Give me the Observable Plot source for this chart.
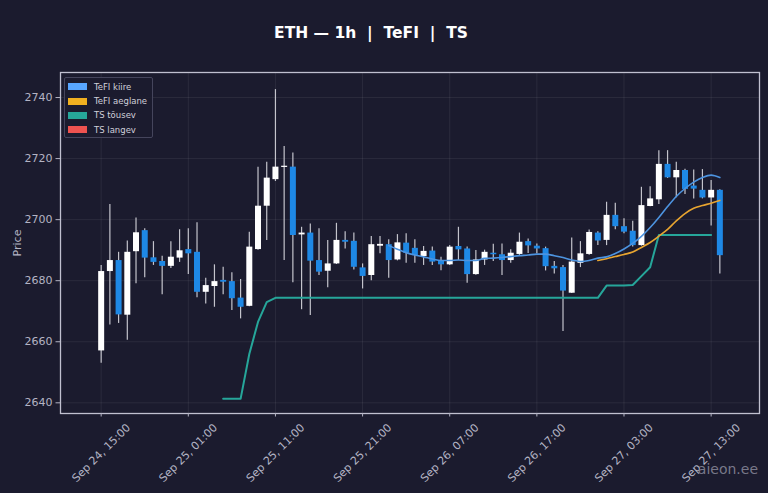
<!DOCTYPE html>
<html><head><meta charset="utf-8">
<script src="https://cdn.jsdelivr.net/npm/d3@7"></script>
<script src="https://cdn.jsdelivr.net/npm/@observablehq/plot@0.6"></script>
<style>
html,body{margin:0;padding:0;background:#1b1b2e;}
#wrap{position:relative;width:768px;height:493px;overflow:hidden;font-family:"DejaVu Sans",sans-serif;background:#1b1b2e;}
#wrap svg{position:absolute;left:0;top:0;}
#title{position:absolute;left:0;width:742px;top:23px;line-height:20px;text-align:center;color:#ffffff;font-weight:bold;font-size:15.5px;white-space:pre;}
#legend{position:absolute;left:64px;top:77px;width:87px;height:59px;border:1px solid #45455c;border-radius:2px;background:rgba(27,27,46,0.85);}
.item{position:absolute;left:3px;height:12px;font-size:8.5px;line-height:12px;color:#d0d0da;white-space:nowrap;}
.sw{position:absolute;left:0;top:2.5px;width:19px;height:7px;}
.lab{position:absolute;left:26px;top:0;}
#wm{position:absolute;right:10px;top:461px;font-size:14px;color:rgba(185,185,200,0.6);}
</style>
</head><body>
<div id="wrap">
  <div id="title">ETH — 1h  |  TeFI  |  TS</div>
</div>
<script>
// Hourly candles starting Sep 24, 15:00
const firstCandle = "2025-09-24T15:00:00Z";
const open  = [2657,2683,2686.6,2668.7,2689.5,2696.4,2687.5,2686.3,2684.7,2687.4,2690.2,2689.3,2676.2,2678.1,2680.1,2679.7,2674.3,2671.6,2690.2,2704.4,2713.1,2717.1,2717.2,2695,2695.6,2686.6,2683.1,2685.5,2693.2,2692.9,2684.2,2681.7,2691.3,2691.8,2686.8,2692.3,2690.6,2687.9,2689.7,2686.6,2685.2,2691.2,2690.4,2682,2686.8,2689,2688.5,2686.6,2688.6,2692.8,2691.3,2690.5,2684.7,2684.3,2675.9,2685.7,2688.6,2695.6,2693.2,2701.4,2697.7,2696.2,2691.5,2704.3,2706.5,2718.1,2713.7,2716.1,2711,2709.6,2707.1,2709.6];
const high  = [2685,2705,2689.3,2693,2700.5,2697,2692.8,2688,2692.8,2696.7,2697,2699,2680.8,2685.2,2684.4,2682.6,2680.4,2695.9,2717.2,2718.8,2742.6,2724,2721.8,2697.5,2698.6,2697,2693.2,2698.8,2696,2695.6,2685.5,2694.5,2694.5,2693.4,2695.1,2695.4,2693.4,2691.2,2691,2687.7,2691.5,2697.5,2691,2689.9,2690,2691.9,2692,2690.1,2695.6,2693.7,2692,2691,2686.3,2685,2694,2692.8,2696.6,2696,2705.7,2705.4,2700.3,2699.5,2710.6,2710.8,2722.6,2722.6,2718.8,2716.5,2716.3,2716.4,2712.8,2709.8];
const low   = [2653,2665.5,2666,2660.5,2679,2681,2685,2675.4,2684,2686,2682,2674.4,2672.4,2671.3,2675.4,2670.2,2667.5,2671.5,2690,2693.2,2712.5,2686.6,2679.3,2670.5,2668.6,2681.7,2677.7,2685.3,2690.4,2683.5,2677.3,2680,2688.8,2680.8,2686.5,2685.7,2685.7,2685,2685,2683.3,2685,2686.6,2679.2,2681.8,2685,2686.3,2681.7,2685.7,2688.3,2688.9,2688.8,2683.2,2682.2,2663.4,2675.8,2684.3,2688.3,2691.5,2691.5,2696.7,2695.4,2691,2691.3,2704.2,2705,2713.5,2707.2,2708.2,2706.8,2706.8,2697.9,2682.2];
const close = [2683,2686.6,2668.8,2689.3,2695.7,2687.4,2686,2684.7,2687.7,2689.8,2688.8,2676.2,2678.4,2679.7,2679.5,2674.1,2671.3,2691,2704.4,2713.6,2717.2,2717.5,2694.8,2695.6,2686.4,2682.8,2685.5,2693.2,2692.6,2684.4,2681.4,2691.8,2691.9,2686.6,2692.4,2689,2688.2,2689.6,2686.1,2685.2,2691,2690.1,2682,2686.8,2689.3,2688.5,2686.6,2689,2692.6,2691.4,2690.4,2684.6,2683.9,2676.6,2686.1,2688.8,2695.8,2693,2701.4,2697.7,2695.9,2691.5,2704.6,2706.8,2718.1,2713.7,2716.1,2709.9,2710,2707.1,2709.6,2688.2];

// TeFI kiire: from candle 33
const kiireStart = 33;
const kiire = [2691.5,2690.3,2689.2,2688.4,2687.8,2687.1,2686.6,2686.6,2686.8,2686.6,2686.6,2687.3,2687.4,2687.6,2687.9,2688.2,2688.4,2688.7,2688.7,2688.2,2687.6,2686.8,2686.3,2686.6,2687.4,2687.8,2688.9,2690.4,2692.2,2694.5,2697.4,2700.7,2704.3,2707.6,2710.2,2712.3,2713.8,2714.6,2713.8];
// TeFI aeglane: from candle 57
const aeglaneStart = 57;
const aeglane = [2686.6,2687.2,2687.9,2688.6,2689.4,2690.9,2692.5,2694.6,2696.8,2699.6,2702.0,2703.7,2704.6,2705.4,2706.3];
// TS tõusev: from candle 14
const tsUpStart = 14;
const tsUp = [2641.3,2641.3,2641.3,2656,2666.5,2673,2674.4,2674.4,2674.4,2674.4,2674.4,2674.4,2674.4,2674.4,2674.4,2674.4,2674.4,2674.4,2674.4,2674.4,2674.4,2674.4,2674.4,2674.4,2674.4,2674.4,2674.4,2674.4,2674.4,2674.4,2674.4,2674.4,2674.4,2674.4,2674.4,2674.4,2674.4,2674.4,2674.4,2674.4,2674.4,2674.4,2674.4,2674.4,2678.4,2678.4,2678.4,2678.6,2681.5,2684.4,2695,2695,2695,2695,2695,2695,2695];
// TS langev: no values in view
const tsDownStart = 0;
const tsDown = [];

const legendLabels = ["TeFI kiire","TeFI aeglane","TS tõusev","TS langev"];
const legendColors = ["#58a6ff","#f0b020","#26a69a","#ef5350"];
const yTickValues = [2640,2660,2680,2700,2720,2740];
const xTickStrings = ["2025-09-24T15:00:00Z","2025-09-25T01:00:00Z","2025-09-25T11:00:00Z","2025-09-25T21:00:00Z","2025-09-26T07:00:00Z","2025-09-26T17:00:00Z","2025-09-27T03:00:00Z","2025-09-27T13:00:00Z"];
const xDomainStrings = ["2025-09-24T10:20:00Z","2025-09-27T18:33:00Z"];
const yDomain = [2636.5, 2748.2];

const t0 = new Date(firstCandle);
const tAt = i => d3.utcHour.offset(t0, i);
const candles = open.map((o, i) => ({t: tAt(i), o, h: high[i], l: low[i], c: close[i]}));
const up = candles.filter(d => d.c >= d.o);
const down = candles.filter(d => d.c < d.o);
const series = (arr, s) => arr.map((v, k) => ({t: tAt(s + k), v}));
const xTicks = xTickStrings.map(s => new Date(s));
const fmt = d3.utcFormat("%b %d, %H:%M");
const labelColor = "#b4b4c4";

const chart = Plot.plot({
  width: 768, height: 493,
  marginLeft: 60, marginRight: 9, marginTop: 72, marginBottom: 80,
  style: {background: "transparent", color: labelColor, fontFamily: "DejaVu Sans", fontSize: "11px"},
  x: {type: "utc", domain: xDomainStrings.map(s => new Date(s))},
  y: {domain: yDomain},
  marks: [
    Plot.gridX(xTicks, {stroke: "#ffffff", strokeOpacity: 0.07}),
    Plot.gridY(yTickValues, {stroke: "#ffffff", strokeOpacity: 0.07}),
    Plot.ruleX(candles, {x: "t", y1: "l", y2: "h", stroke: "#c4c4cc", strokeWidth: 1.2}),
    Plot.ruleX(up, {x: "t", y1: "o", y2: "c", stroke: "#ffffff", strokeWidth: 6}),
    Plot.ruleX(down, {x: "t", y1: "o", y2: "c", stroke: "#1e88e5", strokeWidth: 6}),
    Plot.line(series(tsUp, tsUpStart), {x: "t", y: "v", stroke: "#26a69a", strokeWidth: 2}),
    Plot.line(series(tsDown, tsDownStart), {x: "t", y: "v", stroke: "#ef5350", strokeWidth: 2}),
    Plot.line(series(aeglane, aeglaneStart), {x: "t", y: "v", stroke: "#e8a530", strokeWidth: 1.6, curve: "monotone-x"}),
    Plot.line(series(kiire, kiireStart), {x: "t", y: "v", stroke: "#4d94e0", strokeWidth: 1.6, curve: "monotone-x"}),
    Plot.frame({stroke: "#c0c0d0", strokeWidth: 1.3}),
    Plot.axisY({ticks: yTickValues, tickFormat: d3.format("d"), tickSize: 4.5, tickPadding: 3.5, fontSize: 11, label: "Price", labelAnchor: "center", labelOffset: 47, labelArrow: "none"}),
    Plot.axisX({ticks: xTicks, tickSize: 3.5, tickFormat: () => "", label: null}),
    Plot.text(xTicks, {x: d => d, text: d => fmt(d), frameAnchor: "bottom", dy: 39.5, rotate: -45, textAnchor: "middle", lineAnchor: "middle", fill: labelColor, fontSize: 11})
  ]
});

const wrap = document.getElementById("wrap");
wrap.insertBefore(chart, wrap.firstChild);

const legend = document.createElement("div");
legend.id = "legend";
legendLabels.forEach((lab, i) => {
  const it = document.createElement("div");
  it.className = "item";
  it.style.top = (2.7 + i * 14.3) + "px";
  it.innerHTML = `<span class="sw" style="background:${legendColors[i]}"></span><span class="lab"></span>`;
  it.querySelector(".lab").textContent = lab;
  legend.appendChild(it);
});
wrap.appendChild(legend);

const wm = document.createElement("div");
wm.id = "wm";
wm.textContent = "aieon.ee";
wrap.appendChild(wm);
</script>
</body></html>
